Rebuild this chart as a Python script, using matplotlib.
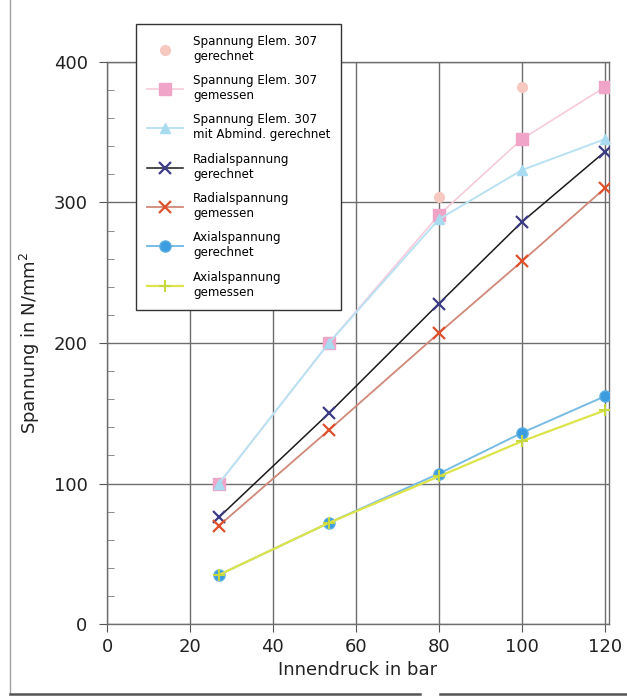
import matplotlib
matplotlib.use("Agg")
import matplotlib.pyplot as plt
from matplotlib.lines import Line2D

plt.rcParams['font.family'] = ['DejaVu Sans']

pressure = [27, 53.5, 80, 100, 120]
elem307_calc = [100, 200, 304, 382]
elem307_meas = [100, 200, 291, 345, 382]
elem307_red = [100, 200, 288, 323, 345]
radial_calc = [76, 150, 228, 286, 336]
radial_meas = [70, 138, 207, 258, 310]
axial_calc = [35, 72, 107, 136, 162]
axial_meas = [35, 72, 105, 130, 152]

labels = [
    "Spannung Elem. 307\ngerechnet",
    "Spannung Elem. 307\ngemessen",
    "Spannung Elem. 307\nmit Abmind. gerechnet",
    "Radialspannung\ngerechnet",
    "Radialspannung\ngemessen",
    "Axialspannung\ngerechnet",
    "Axialspannung\ngemessen",
]

fig = plt.figure(figsize=(6.27, 6.96), dpi=100)
ax = fig.add_axes([0.1707, 0.1034, 0.8003, 0.8076])

h1, = ax.plot(pressure[:len(elem307_calc)], elem307_calc, linestyle='none', marker='o',
              color='#f5c8c0', markersize=7, label=labels[0], zorder=3)
h2, = ax.plot(pressure, elem307_meas, color='#f6cadb', marker='s', markersize=8,
              markerfacecolor='#f0a4c8', markeredgecolor='#f0a4c8', lw=1.2, label=labels[1], zorder=3)
h3, = ax.plot(pressure, elem307_red, color='#b8e2f2', marker='^', markersize=7,
              markerfacecolor='#a8daf0', markeredgecolor='#a8daf0', lw=1.4, label=labels[2], zorder=3)
h4, = ax.plot(pressure, radial_calc, color='#1a1a1a', marker='x', markersize=8,
              markeredgecolor='#3c3c84', markeredgewidth=1.6, lw=1.1, label=labels[3], zorder=4)
h5, = ax.plot(pressure, radial_meas, color='#d08878', marker='x', markersize=8,
              markeredgecolor='#e0502c', markeredgewidth=1.6, lw=1.3, label=labels[4], zorder=4)
h6, = ax.plot(pressure, axial_calc, color='#78bce4', marker='o', markersize=8,
              markerfacecolor='#3c9ce0', markeredgecolor='#5aaee0', lw=1.4, label=labels[5], zorder=4)
h7, = ax.plot(pressure, axial_meas, color='#dce44a', marker='+', markersize=8,
              markeredgecolor='#c8d840', markeredgewidth=1.5, lw=1.6, label=labels[6], zorder=5)

ax.set_xlim(0, 121)
ax.set_ylim(0, 400)
ax.set_xticks([0, 20, 40, 60, 80, 100, 120])
ax.set_yticks([0, 100, 200, 300, 400])
ax.set_yticks(range(0, 401, 20), minor=True)
ax.grid(True, which='major', color='#6e6e6e', lw=1.0)
ax.tick_params(axis='both', which='major', direction='out', length=6, color='#555555',
               labelsize=13, labelcolor='#222222')
ax.tick_params(axis='x', which='major', pad=4)
ax.tick_params(axis='y', which='major', pad=8)
ax.tick_params(axis='y', which='minor', direction='in', length=5, color='#777777')
for s in ax.spines.values():
    s.set_color('#6e6e6e')
    s.set_linewidth(1.0)

ax.set_xlabel("Innendruck in bar", fontsize=13, color='#222222', labelpad=4)
ax.set_ylabel("Spannung in N/mm$^2$", fontsize=13, color='#222222', labelpad=8)

leg = fig.legend(handles=[h1, h2, h3, h4, h5, h6, h7], labels=labels,
                 loc='upper left', bbox_to_anchor=(136 / 627, 1 - 24 / 696),
                 fontsize=8.6, frameon=True, fancybox=False, edgecolor='#333333',
                 framealpha=1, handlelength=3.0, labelspacing=0.95, borderpad=0.9,
                 handletextpad=0.9, borderaxespad=0)
leg.get_frame().set_linewidth(1.0)
leg.set_zorder(10)

# scan edge lines of the original page
fig.add_artist(Line2D([10 / 627, 10 / 627], [0.003, 1.0], color='#a0a0a0', lw=1.0))
fig.add_artist(Line2D([10 / 627, 420 / 627], [2 / 696, 2 / 696], color='#555555', lw=1.8))
fig.add_artist(Line2D([440 / 627, 1.0], [2 / 696, 2 / 696], color='#555555', lw=1.8))

fig.savefig("out.png", dpi=100)
